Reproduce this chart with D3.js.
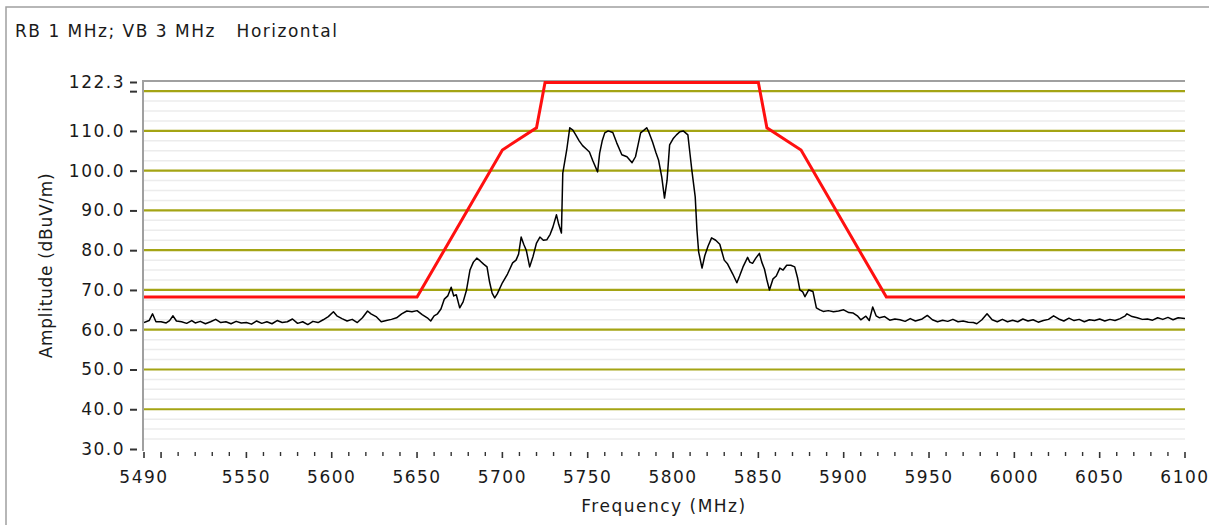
<!DOCTYPE html>
<html>
<head>
<meta charset="utf-8">
<script src="https://cdn.jsdelivr.net/npm/d3@7"></script>
<style>
    html, body { margin: 0; padding: 0; background: #fff; }
    text { font-family: "DejaVu Sans", Verdana, sans-serif; fill: #1a1a1a; }
</style>
</head>
<body>
<div id="chart"></div>
<script>
// scan header + axis setup
var headerText = "RB 1 MHz; VB 3 MHz   Horizontal";
var yTitle = "Amplitude (dBuV/m)";
var xTitle = "Frequency (MHz)";

var freqDomain = [5490, 6100];
var ampDomain = [30, 122.3];
var yTickValues = [30, 40, 50, 60, 70, 80, 90, 100, 110, 120, 122.3];
var yTickLabels = ["30.0", "40.0", "50.0", "60.0", "70.0", "80.0", "90.0", "100.0", "110.0", "", "122.3"];
var yGridMajor = [40, 50, 60, 70, 80, 90, 100, 110, 120];
var xLabelValues = [5490, 5550, 5600, 5650, 5700, 5750, 5800, 5850, 5900, 5950, 6000, 6050, 6100];

// limit mask (red), [MHz, dBuV/m]
var limitMask = [
    [5490, 68.2], [5650, 68.2], [5700, 105.2], [5720, 110.8], [5725, 122.2],
    [5850, 122.2], [5855, 110.8], [5875, 105.2], [5925, 68.2], [6100, 68.2]
];

// measured trace (black), [MHz, dBuV/m]
var measuredTrace = [
    [5490, 61.8], [5493, 62.3], [5495, 64.0], [5497, 62.0], [5500, 62.0], [5503, 61.7],
    [5505, 62.3], [5507, 63.5], [5509, 62.2], [5512, 62.0], [5515, 61.6], [5518, 62.3],
    [5520, 61.7], [5523, 62.1], [5526, 61.5], [5529, 62.0], [5532, 62.6], [5535, 61.8],
    [5538, 62.0], [5541, 61.5], [5544, 62.1], [5547, 61.7], [5550, 61.8], [5553, 61.4],
    [5556, 62.2], [5559, 61.6], [5562, 62.0], [5565, 61.5], [5568, 62.3], [5571, 61.8],
    [5574, 62.0], [5577, 62.7], [5580, 61.6], [5583, 62.0], [5586, 61.3], [5589, 62.1],
    [5592, 61.8], [5595, 62.5], [5598, 63.3], [5601, 64.5], [5603, 63.5], [5606, 62.8],
    [5609, 62.2], [5612, 62.6], [5615, 61.8], [5618, 63.0], [5621, 64.7], [5623, 64.0],
    [5626, 63.3], [5629, 62.0], [5632, 62.3], [5635, 62.6], [5638, 63.0], [5641, 64.0],
    [5644, 64.7], [5647, 64.5], [5650, 64.8], [5653, 63.8], [5656, 63.0], [5658, 62.2],
    [5660, 63.5], [5662, 64.0], [5664, 65.2], [5666, 67.7], [5668, 68.5], [5670, 70.7],
    [5671.5, 68.5], [5673, 68.8], [5675, 65.5], [5677, 67.0], [5679, 70.0], [5681, 75.0],
    [5683, 77.0], [5685, 78.0], [5687, 77.3], [5689, 76.5], [5691, 75.8], [5692.5, 72.0],
    [5694, 69.2], [5695.5, 68.0], [5697, 69.0], [5700, 71.8], [5703, 74.0], [5706, 76.8],
    [5708, 77.5], [5709.5, 79.0], [5711, 83.3], [5712.5, 81.5], [5714, 80.0], [5716, 75.8],
    [5718, 78.5], [5720, 81.8], [5722, 83.3], [5724, 82.5], [5726, 82.6], [5728, 84.0],
    [5729.6, 85.8], [5731.7, 88.9], [5733, 86.5], [5734.6, 84.3], [5735.4, 99.4], [5737.7, 105.2],
    [5739.5, 110.8], [5741.3, 110.2], [5743, 109.0], [5745, 107.5], [5747, 106.3], [5749, 105.5],
    [5751, 104.7], [5753, 102.5], [5755.8, 99.7], [5757, 104.4], [5758.5, 107.5], [5760, 109.5],
    [5762, 110.0], [5764.7, 109.6], [5767, 107.0], [5770, 104.0], [5773, 103.5], [5776, 102.0],
    [5778, 103.5], [5779.5, 106.5], [5781, 109.5], [5783, 110.2], [5784.6, 110.8], [5786, 109.5],
    [5788, 107.2], [5790, 104.5], [5791.5, 102.7], [5793.4, 98.4], [5795, 93.1], [5796.5, 97.6],
    [5798, 106.5], [5800, 108.0], [5802, 109.0], [5804, 109.8], [5806, 110.0], [5808.7, 109.0],
    [5810, 104.0], [5811, 100.2], [5813, 93.4], [5814, 85.1], [5815, 79.6], [5817, 75.5],
    [5818.6, 78.6], [5820.5, 81.0], [5822.6, 83.1], [5825, 82.5], [5827.4, 81.5], [5830, 77.5],
    [5832, 76.5], [5835, 74.0], [5837.4, 71.8], [5839, 73.5], [5841, 75.8], [5843.7, 78.2],
    [5845, 77.0], [5846.6, 76.7], [5848.5, 78.0], [5850.6, 79.2], [5852, 77.0], [5853.6, 75.2],
    [5855, 72.5], [5856.5, 70.0], [5858.6, 72.8], [5860.5, 73.5], [5862.6, 75.5], [5864.5, 75.0],
    [5866.6, 76.2], [5869, 76.2], [5871.3, 75.8], [5873, 73.0], [5874.3, 70.0], [5876, 69.5],
    [5877.3, 68.3], [5879.5, 70.0], [5882, 69.6], [5884, 65.5], [5886, 65.0], [5888, 64.6],
    [5891, 64.8], [5894, 64.5], [5897, 64.7], [5900, 65.0], [5903, 64.3], [5905.6, 64.2],
    [5908, 63.5], [5910, 62.5], [5913, 63.4], [5915, 62.3], [5917, 65.7], [5919, 63.5],
    [5921, 63.0], [5924, 63.3], [5927, 62.4], [5930, 62.7], [5933, 62.5], [5936, 62.1],
    [5939, 62.8], [5942, 62.2], [5946, 62.7], [5949, 63.6], [5952, 62.5], [5955, 62.0],
    [5958, 62.4], [5961, 62.1], [5964, 62.6], [5967, 62.0], [5970, 62.2], [5973, 61.9],
    [5976, 61.8], [5978, 61.5], [5981, 62.5], [5984, 64.0], [5987, 62.5], [5990, 62.0],
    [5993, 62.6], [5996, 62.0], [5999, 62.4], [6002, 62.0], [6005, 62.7], [6008, 62.2],
    [6011, 62.5], [6014, 61.9], [6017, 62.3], [6020, 62.6], [6023, 63.5], [6026, 62.7],
    [6029, 62.2], [6032, 62.9], [6035, 62.3], [6038, 62.6], [6041, 62.0], [6044, 62.5],
    [6047, 62.3], [6050, 62.7], [6053, 62.2], [6056, 62.6], [6059, 62.3], [6062, 62.8],
    [6065, 63.5], [6066, 64.0], [6069, 63.3], [6072, 63.0], [6075, 62.6], [6078, 62.7],
    [6081, 62.4], [6084, 63.0], [6087, 62.6], [6090, 63.1], [6093, 62.5], [6096, 63.0],
    [6100, 62.8]
];

var W = 1209, H = 525;
var plot = { left: 144, right: 1185, top: 82, bottom: 449 };

var svg = d3.select("#chart").append("svg")
    .attr("width", W)
    .attr("height", H);

// outer frame of the panel
svg.append("rect")
    .attr("x", 6).attr("y", 7)
    .attr("width", W + 10).attr("height", H + 10)
    .attr("fill", "#fff")
    .attr("stroke", "#a0a0a0")
    .attr("stroke-width", 1.5);

svg.append("text")
    .attr("x", 15).attr("y", 37)
    .attr("font-size", 17)
    .attr("letter-spacing", 1.5)
    .style("white-space", "pre")
    .text(headerText);

var x = d3.scaleLinear().domain(freqDomain).range([plot.left, plot.right]);
var y = d3.scaleLinear().domain(ampDomain).range([plot.bottom, plot.top]);

// minor grid every 2.5 dB
var minorGrid = d3.range(32.5, 122.3, 2.5).filter(function (d) { return d % 10 !== 0; });
svg.append("g").selectAll("line")
    .data(minorGrid)
    .enter().append("line")
    .attr("x1", plot.left).attr("x2", plot.right)
    .attr("y1", function (d) { return y(d); })
    .attr("y2", function (d) { return y(d); })
    .attr("stroke", "#ececec")
    .attr("stroke-width", 1.5);

svg.append("g").selectAll("line")
    .data(yGridMajor)
    .enter().append("line")
    .attr("x1", plot.left).attr("x2", plot.right)
    .attr("y1", function (d) { return y(d); })
    .attr("y2", function (d) { return y(d); })
    .attr("stroke", "#a4a414")
    .attr("stroke-width", 2.2);

// plot border (left + top)
svg.append("path")
    .attr("d", "M" + (plot.left - 1) + "," + (plot.bottom + 2) + "V" + (plot.top - 1) + "H" + plot.right)
    .attr("fill", "none")
    .attr("stroke", "#a0a0a0")
    .attr("stroke-width", 2);

// y axis
var yAxis = d3.axisLeft(y)
    .tickValues(yTickValues)
    .tickSize(7)
    .tickPadding(5)
    .tickFormat(function (d, i) { return yTickLabels[i]; });
var yg = svg.append("g")
    .attr("transform", "translate(" + (plot.left - 7) + ",0)")
    .call(yAxis);
yg.select(".domain").remove();
yg.selectAll(".tick line").attr("stroke", "#333").attr("stroke-width", 2);
yg.selectAll(".tick text")
    .attr("font-size", 17)
    .attr("font-family", "DejaVu Sans")
    .attr("letter-spacing", 1.5)
    .attr("fill", "#1a1a1a");

// x axis: minor ticks every 10 MHz, long ones every 50
var xTicks = d3.range(freqDomain[0], freqDomain[1] + 1, 10);
var xg = svg.append("g");
xg.selectAll("line")
    .data(xTicks)
    .enter().append("line")
    .attr("x1", function (d) { return x(d); })
    .attr("x2", function (d) { return x(d); })
    .attr("y1", plot.bottom + 3)
    .attr("y2", function (d) { return (d % 50 === 0 || d === freqDomain[0]) ? plot.bottom + 9 : plot.bottom + 7; })
    .attr("stroke", "#333")
    .attr("stroke-width", function (d) { return (d % 50 === 0 || d === freqDomain[0]) ? 1.6 : 1.4; });

xg.selectAll("text")
    .data(xLabelValues)
    .enter().append("text")
    .attr("x", function (d) { return x(d); })
    .attr("y", 483)
    .attr("text-anchor", "middle")
    .attr("font-size", 17)
    .attr("letter-spacing", 1.5)
    .text(function (d) { return d; });

// axis titles
svg.append("text")
    .attr("transform", "translate(52," + ((plot.top + plot.bottom) / 2) + ") rotate(-90)")
    .attr("text-anchor", "middle")
    .attr("font-size", 17)
    .attr("letter-spacing", 0.7)
    .text(yTitle);

svg.append("text")
    .attr("x", 664).attr("y", 512)
    .attr("text-anchor", "middle")
    .attr("font-size", 17)
    .attr("letter-spacing", 1.5)
    .text(xTitle);

// traces
var line = d3.line()
    .x(function (d) { return x(d[0]); })
    .y(function (d) { return y(d[1]); });

svg.append("defs").append("clipPath").attr("id", "plotClip")
    .append("rect")
    .attr("x", plot.left).attr("y", plot.top - 2)
    .attr("width", plot.right - plot.left).attr("height", plot.bottom - plot.top + 2);

var traces = svg.append("g").attr("clip-path", "url(#plotClip)");

traces.append("path")
    .datum(measuredTrace)
    .attr("d", line)
    .attr("fill", "none")
    .attr("stroke", "#000")
    .attr("stroke-width", 1.5)
    .attr("stroke-linejoin", "round");

traces.append("path")
    .datum(limitMask)
    .attr("d", line)
    .attr("fill", "none")
    .attr("stroke", "#ff1010")
    .attr("stroke-width", 3);
</script>
</body>
</html>
